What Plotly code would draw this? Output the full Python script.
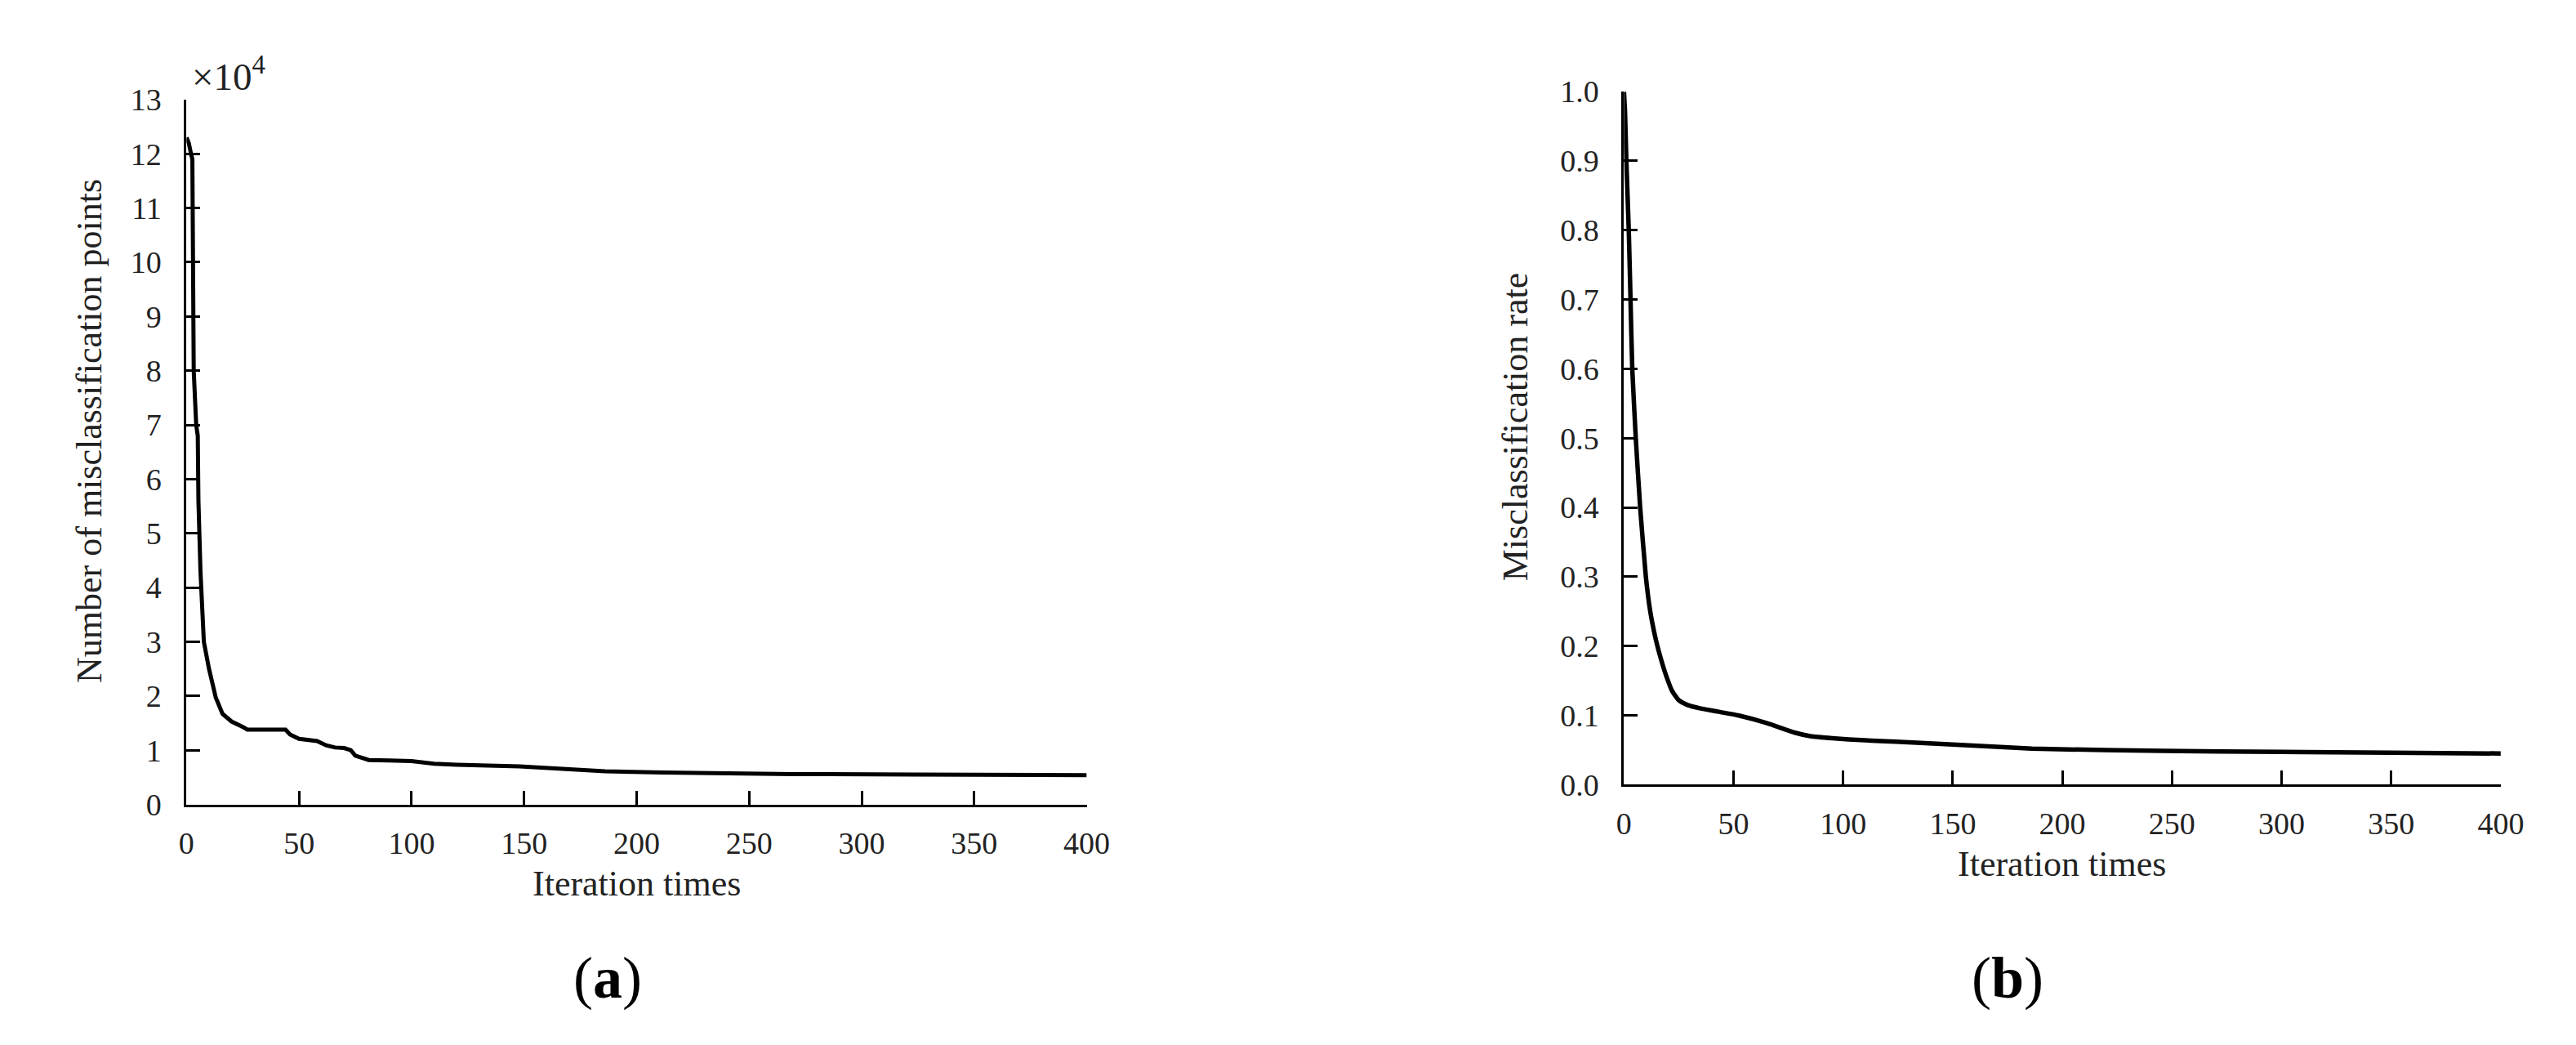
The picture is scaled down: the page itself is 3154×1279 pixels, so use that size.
import plotly.graph_objects as go

# ---- data: panel (a) number of misclassification points (x 10^4)
iter_a = [0, 1, 2, 2.6, 3.2, 4.3, 5.0, 5.3, 6.2, 6.6, 7.7, 10, 13, 16, 20, 25, 27, 44, 46, 50,
          55, 58, 62, 66, 70, 73, 75, 78, 81, 90, 100, 110, 120, 148, 157, 170, 186, 212, 237,
          270, 324, 400]
points_a = [12.3, 12.2, 12.0, 11.9, 8.0, 7.0, 6.8, 5.6, 4.3, 4.0, 3.0, 2.5, 1.97, 1.67, 1.53,
            1.43, 1.38, 1.38, 1.29, 1.21, 1.18, 1.17, 1.09, 1.05, 1.04, 1.0, 0.9, 0.85, 0.82,
            0.81, 0.80, 0.75, 0.73, 0.70, 0.68, 0.65, 0.61, 0.59, 0.57, 0.56, 0.55, 0.54]

# ---- data: panel (b) misclassification rate
iter_b = [0, 0.5, 1.1, 2.2, 3.0, 3.8, 5.4, 7.4, 10.0, 12.0, 14.5, 17.0, 19.5, 22.0, 25.0, 29,
          35, 42, 52, 65, 78, 85, 95, 110, 124, 150, 186, 219, 272, 350, 400]
rate_b = [1.0, 0.97, 0.90, 0.80, 0.70, 0.60, 0.50, 0.40, 0.30, 0.25, 0.21, 0.18, 0.155, 0.135,
          0.122, 0.115, 0.110, 0.106, 0.100, 0.089, 0.075, 0.070, 0.067, 0.064, 0.062, 0.058,
          0.052, 0.050, 0.048, 0.046, 0.045]

x_ticks = [0, 50, 100, 150, 200, 250, 300, 350, 400]
y_ticks_a = list(range(0, 14))
y_ticks_b = [0.0, 0.1, 0.2, 0.3, 0.4, 0.5, 0.6, 0.7, 0.8, 0.9, 1.0]

W, H = 3154, 1279
FONT = "Liberation Serif"
TICK_SIZE = 38
TITLE_SIZE = 44


def px(x):
    return x / W


def py(y):
    return 1 - y / H


fig = go.Figure()
fig.add_trace(go.Scatter(x=iter_a, y=points_a, mode="lines",
                         line=dict(color="black", width=5), xaxis="x", yaxis="y",
                         showlegend=False))
fig.add_trace(go.Scatter(x=iter_b, y=rate_b, mode="lines",
                         line=dict(color="black", width=5.5, shape="spline", smoothing=0.5),
                         xaxis="x2", yaxis="y2", showlegend=False))

axis_common = dict(showline=True, linecolor="black", linewidth=3, ticks="inside",
                   ticklen=17, tickwidth=2.5, tickcolor="black", showgrid=False,
                   zeroline=False, mirror=False,
                   tickfont=dict(family=FONT, size=TICK_SIZE, color="#222"))

fig.update_layout(
    width=W, height=H, margin=dict(l=0, r=0, t=0, b=0),
    paper_bgcolor="white", plot_bgcolor="white",
    xaxis=dict(domain=[px(213), px(1329)], range=[0, 400], tickvals=x_ticks,
               anchor="y", ticklabelstandoff=12, **axis_common),
    yaxis=dict(domain=[py(988), py(96)], range=[0, 13], tickvals=y_ticks_a,
               anchor="x", ticklabelstandoff=20, **axis_common),
    xaxis2=dict(domain=[px(1995), px(3082)], range=[0, 400], tickvals=x_ticks,
                anchor="y2", ticklabelstandoff=12, **axis_common),
    yaxis2=dict(domain=[py(963), py(86)], range=[0, 1.0], tickvals=y_ticks_b,
                tickformat=".1f", anchor="x2", ticklabelstandoff=20, **axis_common),
)

ann = []
tfont = dict(family=FONT, size=TITLE_SIZE, color="#222")
ann.append(dict(text="Number of misclassification points", x=px(92), y=py(515),
                xref="paper", yref="paper", showarrow=False, textangle=-90, font=tfont,
                xanchor="center", yanchor="middle"))
ann.append(dict(text="Iteration times", x=px(771), y=py(1088), xref="paper", yref="paper",
                showarrow=False, font=tfont, xanchor="center", yanchor="middle"))
ann.append(dict(text="Misclassification rate", x=px(1860), y=py(510), xref="paper",
                yref="paper", showarrow=False, textangle=-90, font=tfont,
                xanchor="center", yanchor="middle"))
ann.append(dict(text="Iteration times", x=px(2538), y=py(1063), xref="paper", yref="paper",
                showarrow=False, font=tfont, xanchor="center", yanchor="middle"))
ann.append(dict(text="×10<sup>4</sup>", x=px(218), y=py(64), xref="paper", yref="paper",
                showarrow=False, font=dict(family=FONT, size=47, color="#222"),
                xanchor="left", yanchor="middle"))
lab_font = dict(family=FONT, size=72, color="black")
ann.append(dict(text="(<b>a</b>)", x=px(735), y=py(1208), xref="paper", yref="paper",
                showarrow=False, font=lab_font, xanchor="center", yanchor="middle"))
ann.append(dict(text="(<b>b</b>)", x=px(2471), y=py(1208), xref="paper", yref="paper",
                showarrow=False, font=lab_font, xanchor="center", yanchor="middle"))
fig.update_layout(annotations=ann)

fig.write_html("out.html")
